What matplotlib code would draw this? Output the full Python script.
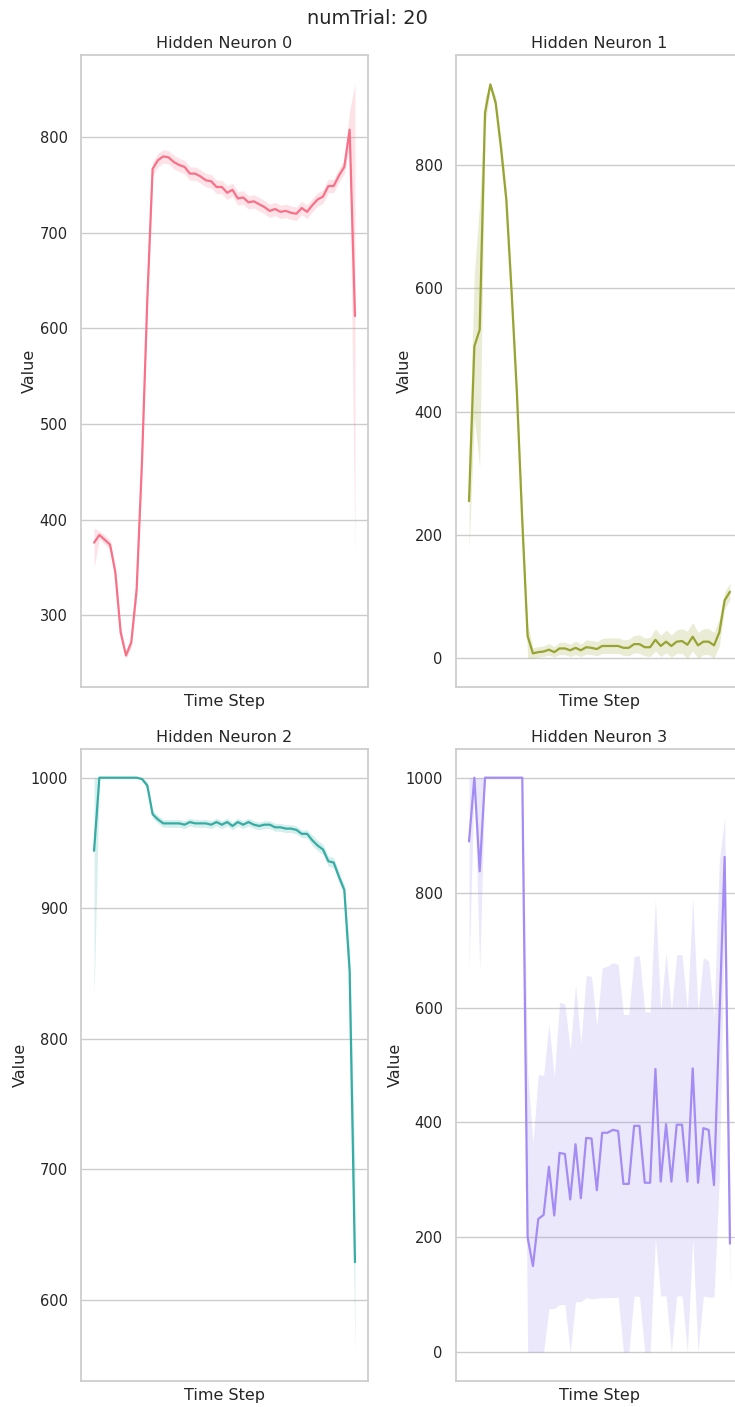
import numpy as np
import matplotlib
matplotlib.use("Agg")
import matplotlib.pyplot as plt
import seaborn as sns

# mean activation per time step and the 95% band, one block per hidden neuron
steps = np.arange(50)

n0_mean = [376, 384, 379, 374, 345, 282, 258, 272, 327, 460,
           630, 767, 776, 780, 779, 774, 771, 769, 762, 762,
           759, 755, 754, 748, 748, 742, 745, 736, 737, 732,
           733, 730, 727, 723, 725, 722, 723, 721, 720, 726,
           722, 729, 735, 738, 749, 749, 760, 769, 808, 613]
n0_low = [350, 380, 374, 369, 338, 276, 255, 266, 319, 450,
          620, 760, 769, 773, 772, 767, 764, 762, 755, 755,
          752, 748, 747, 741, 741, 735, 738, 729, 730, 725,
          726, 723, 720, 716, 718, 715, 716, 714, 713, 719,
          715, 722, 728, 731, 742, 742, 753, 762, 790, 365]
n0_high = [391, 388, 384, 379, 351, 288, 262, 278, 335, 470,
           640, 774, 783, 787, 786, 781, 778, 776, 769, 769,
           766, 762, 761, 755, 755, 749, 752, 743, 744, 739,
           740, 737, 734, 730, 732, 729, 730, 728, 727, 733,
           729, 736, 742, 745, 756, 756, 767, 776, 828, 856]

n1_mean = [255, 506, 533, 885, 931, 901, 828, 744, 593, 428,
           222, 36, 8, 10, 11, 14, 10, 16, 16, 13,
           17, 13, 18, 17, 15, 20, 20, 20, 20, 17,
           17, 23, 23, 18, 18, 30, 20, 27, 20, 27,
           28, 22, 35, 21, 27, 27, 21, 42, 94, 108]
n1_low = [175, 390, 310, 860, 925, 890, 810, 725, 575, 408,
          202, 0, 0, 2, 3, 5, 2, 6, 6, 3,
          6, 3, 7, 6, 4, 8, 8, 8, 8, 5,
          4, 9, 8, 4, 3, 12, 3, 9, 2, 8,
          8, 0, 12, 0, 6, 6, 0, 20, 80, 95]
n1_high = [335, 625, 740, 910, 932, 912, 845, 762, 612, 448,
           242, 55, 17, 19, 20, 24, 19, 26, 26, 23,
           28, 23, 30, 29, 27, 32, 33, 33, 33, 30,
           31, 37, 38, 33, 34, 48, 37, 46, 38, 46,
           48, 44, 58, 42, 48, 48, 42, 64, 108, 122]

n2_mean = [944, 1000, 1000, 1000, 1000, 1000, 1000, 1000, 1000, 999,
           994, 972, 968, 965, 965, 965, 965, 964, 966, 965,
           965, 965, 964, 966, 964, 966, 963, 966, 964, 966,
           964, 963, 964, 964, 962, 962, 961, 961, 960, 957,
           957, 952, 948, 945, 936, 935, 924, 914, 852, 629]
n2_low = [832, 1000, 1000, 1000, 1000, 1000, 1000, 1000, 1000, 998,
          991, 969, 965, 962, 962, 962, 962, 961, 963, 962,
          962, 962, 961, 963, 961, 963, 960, 963, 961, 963,
          961, 960, 961, 961, 959, 959, 958, 958, 957, 954,
          954, 948, 944, 941, 932, 931, 920, 910, 835, 560]
n2_high = [1000, 1000, 1000, 1000, 1000, 1000, 1000, 1000, 1000, 1000,
           997, 975, 971, 968, 968, 968, 968, 967, 969, 968,
           968, 968, 967, 969, 967, 969, 966, 969, 967, 969,
           967, 966, 967, 967, 965, 965, 964, 964, 963, 960,
           960, 956, 952, 949, 940, 939, 928, 918, 868, 700]

n3_mean = [889, 1000, 837, 1000, 1000, 1000, 1000, 1000, 1000, 1000,
           1000, 200, 150, 232, 239, 323, 238, 347, 345, 266,
           362, 268, 373, 372, 282, 382, 382, 387, 385, 293,
           293, 394, 394, 295, 295, 493, 297, 397, 297, 396,
           396, 297, 494, 295, 390, 387, 291, 576, 862, 189]
n3_low = [666, 1000, 664, 1000, 1000, 1000, 1000, 1000, 1000, 1000,
          1000, 0, 0, 0, 0, 76, 76, 83, 83, 0,
          88, 88, 95, 93, 94, 95, 95, 95, 96, 0,
          0, 98, 97, 0, 0, 197, 98, 98, 0, 98,
          98, 0, 198, 0, 98, 96, 96, 300, 780, 105]
n3_high = [1000, 1000, 1000, 1000, 1000, 1000, 1000, 1000, 1000, 1000,
           1000, 490, 364, 483, 482, 572, 479, 609, 606, 526,
           640, 538, 656, 654, 569, 669, 672, 678, 675, 588,
           588, 689, 690, 593, 592, 789, 594, 695, 594, 692,
           692, 596, 791, 592, 687, 681, 583, 855, 931, 280]

means = [n0_mean, n1_mean, n2_mean, n3_mean]
lows = [n0_low, n1_low, n2_low, n3_low]
highs = [n0_high, n1_high, n2_high, n3_high]

sns.set_theme(style="whitegrid")
colors = sns.color_palette("husl", 4)

fig = plt.figure(figsize=(7.35, 14.07), dpi=100)
# axes boxes: left, bottom, width, height (figure fractions)
boxes = [
    [0.1102, 0.5117, 0.3905, 0.4492],
    [0.6204, 0.5117, 0.3905, 0.4492],
    [0.1102, 0.0185, 0.3905, 0.4492],
    [0.6204, 0.0185, 0.3905, 0.4492],
]

for i in range(4):
    ax = fig.add_axes(boxes[i])
    ax.fill_between(steps, lows[i], highs[i], color=colors[i], alpha=0.2, linewidth=0)
    ax.plot(steps, means[i], color=colors[i], linewidth=1.6)
    ax.set_title(f"Hidden Neuron {i}", fontsize=11.5, pad=5)
    ax.set_xlabel("Time Step", fontsize=11.5, labelpad=5)
    ax.set_ylabel("Value", fontsize=11.5, labelpad=2)
    ax.set_xticks([])
    ax.tick_params(axis="y", labelsize=10.5)

fig.suptitle("numTrial: 20", fontsize=14, y=0.987, va="center")

fig.savefig("out.png", dpi=100)
